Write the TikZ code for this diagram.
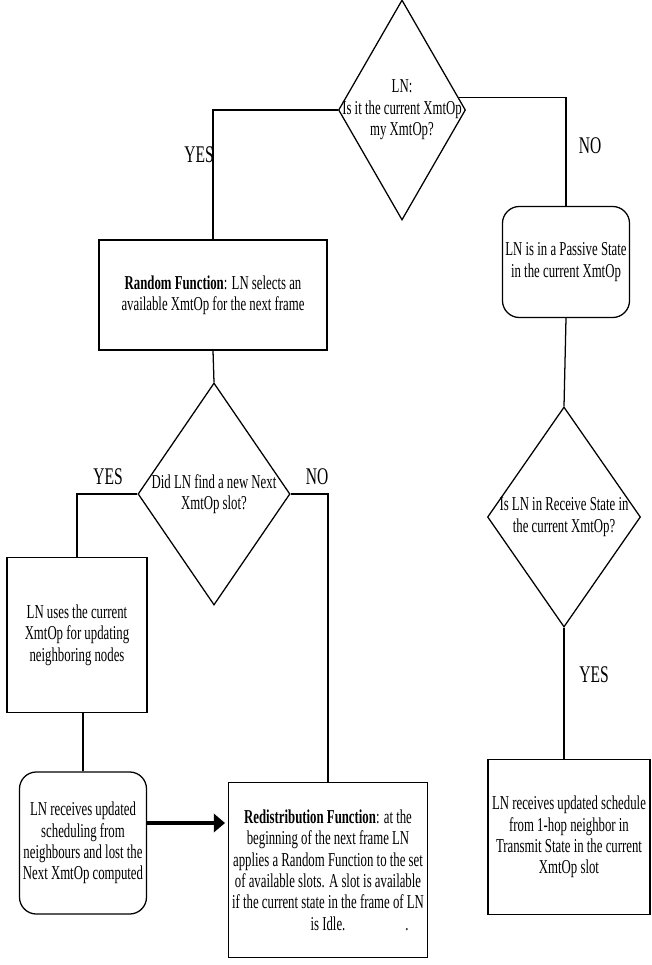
\documentclass[tikz,border=0pt]{standalone}
\usepackage{fontspec}
\setmainfont[FakeStretch=0.65]{Liberation Serif}
\usetikzlibrary{shapes.geometric,arrows.meta}

\tikzset{
  txt/.style={align=center, font=\fontsize{14}{15.2}\selectfont},
  procbox/.style={draw, txt, inner sep=0pt},
  roundbox/.style={procbox, rounded corners=12pt},
  decision/.style={draw, diamond, inner sep=0pt},
  answer/.style={font=\fontsize{17}{19}\selectfont},
  bigarrow/.style={line width=2.5pt, -{Triangle[length=8pt,width=13pt]}, shorten >=2pt},
}

\begin{document}
\begin{tikzpicture}[x=0.025cm, y=-0.025cm, line width=0.9pt]
    \useasboundingbox (0,0) rectangle (651,965);

    % decisions
    \node[decision, minimum width=3.175cm, minimum height=5.5cm,
        label={[txt]center:{LN:\\Is it the current XmtOp\\my XmtOp?}}] (q1) at (402,110) {};
    \node[decision, minimum width=3.8cm, minimum height=5.55cm,
        label={[txt]center:{Did LN find a new Next\\XmtOp slot?}}] (q2) at (214,494) {};
    \node[decision, minimum width=3.825cm, minimum height=5.5cm,
        label={[txt]center:{Is LN in Receive State in\\the current XmtOp?}}] (q3) at (564,517) {};

    % boxes
    \node[procbox, minimum width=5.7cm, minimum height=2.75cm] (rand) at (213,295)
        {\textbf{Random Function}: LN selects an\\available XmtOp for the next frame};
    \node[roundbox, minimum width=3.175cm, minimum height=2.775cm] (passive) at (566,262)
        {LN is in a Passive State\\in the current XmtOp};
    \node[procbox, minimum width=3.5cm, minimum height=3.875cm] (uses) at (77,635)
        {LN uses the current\\XmtOp for updating\\neighboring nodes};
    \node[roundbox, minimum width=3.175cm, minimum height=3.55cm] (lost) at (83,843)
        {LN receives updated\\scheduling from\\neighbours and lost the\\Next XmtOp computed};
    \node[procbox, minimum width=4.975cm, minimum height=4.375cm] (redis) at (328,870)
        {\textbf{Redistribution Function}: at the\\beginning of the next frame LN\\applies a Random Function to the set\\of available slots. A slot is available\\if the current state in the frame of LN\\is Idle.\rlap{\hspace{1.5cm}.}};
    \node[procbox, minimum width=4.05cm, minimum height=3.875cm] (sched) at (569,837)
        {LN receives updated schedule\\from 1-hop neighbor in\\Transmit State in the current\\XmtOp slot};

    % answers
    \node[answer, anchor=east] (yes1) at (219,155) {YES};
    \node[answer] (no1) at (590,146) {NO};
    \node[answer] (yes2) at (108,477) {YES};
    \node[answer] (no2) at (317,477) {NO};
    \node[answer] (yes3) at (594,675) {YES};

    % connectors
    \draw (q1.west) -| (rand.north);
    \draw (q1.12) -| (passive.north);
    \draw (rand.south) -- (q2.north);
    \draw (q2.west) -| (uses.north);
    \draw (q2.east) -| (redis.north);
    \draw (lost.north) -- (lost.north |- uses.south);
    \draw[bigarrow] ([yshift=0.5cm]lost.east) -- ([yshift=0.5cm]lost.east -| redis.west);
    \draw (passive.south) -- (q3.north);
    \draw (q3.south) -- (q3.south |- sched.north);
\end{tikzpicture}
\end{document}
